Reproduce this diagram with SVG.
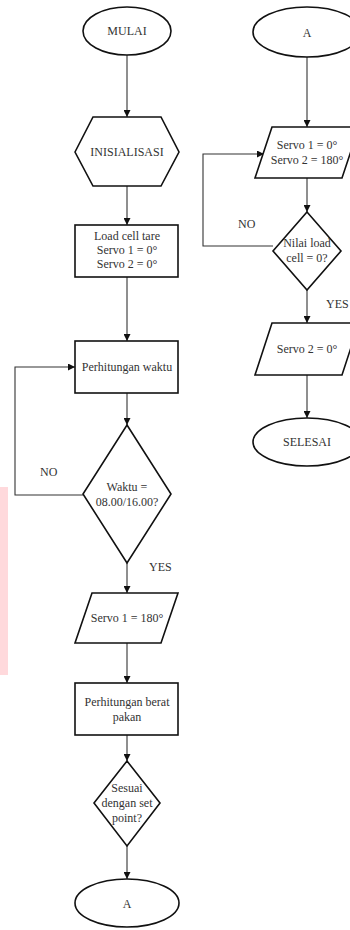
<svg xmlns="http://www.w3.org/2000/svg" width="350" height="930" viewBox="0 0 350 930">
<defs>
<marker id="arr" viewBox="0 0 10 10" refX="10" refY="5" markerWidth="7" markerHeight="7" orient="auto" markerUnits="userSpaceOnUse">
<path d="M0,0 L10,5 L0,10 z" fill="#111"/>
</marker>
<style>
.s{fill:#fff;stroke:#111;stroke-width:1.6}
.c{fill:none;stroke:#333;stroke-width:1.1;marker-end:url(#arr)}
text{font-family:"Liberation Serif","Times New Roman",serif;font-size:12px;fill:#333;text-anchor:middle}
.lbl{text-anchor:start}
</style>
</defs>
<rect x="0" y="487" width="8" height="188" fill="#ffd9dc"/>
<g id="connectors" font-family="Liberation Serif, serif">
<path class="c" d="M127,55 V117"/>
<path class="c" d="M127,186 V225"/>
<path class="c" d="M127,277 V341"/>
<path class="c" d="M127,393 V425"/>
<path class="c" d="M83,495 H15 V367 H75"/>
<path class="c" d="M127,563 V593"/>
<path class="c" d="M127,643 V683"/>
<path class="c" d="M127,735 V761"/>
<path class="c" d="M127,846 V879"/>
<path class="c" d="M307,57 V127"/>
<path class="c" d="M307,178 V212"/>
<path class="c" d="M273,246 H203 V154 H264"/>
<path class="c" d="M307,290 V323"/>
<path class="c" d="M307,375 V418"/>
<text class="lbl" x="40" y="476">NO</text>
<text class="lbl" x="149" y="571">YES</text>
<text class="lbl" x="238" y="228">NO</text>
<text class="lbl" x="326" y="308">YES</text>
</g>
<g id="mulai"><ellipse class="s" cx="127" cy="31" rx="44" ry="24"/><text x="127" y="35">MULAI</text></g>
<g id="inisialisasi"><polygon class="s" points="75,152 93,117 161,117 179,152 161,186 93,186"/><text x="127" y="156">INISIALISASI</text></g>
<g id="loadcell"><rect class="s" x="75" y="225" width="103" height="52"/><text x="127" y="240">Load cell tare</text><text x="127" y="254">Servo 1 = 0°</text><text x="127" y="268">Servo 2 = 0°</text></g>
<g id="waktu"><rect class="s" x="75" y="341" width="103" height="52"/><text x="127" y="371">Perhitungan waktu</text></g>
<g id="cekwaktu"><polygon class="s" points="127,425 171,494 127,563 83,494"/><text x="127" y="491">Waktu =</text><text x="127" y="506">08.00/16.00?</text></g>
<g id="servo1"><polygon class="s" points="92,593 178,593 161,643 75,643"/><text x="127" y="622">Servo 1 = 180°</text></g>
<g id="berat"><rect class="s" x="75" y="683" width="103" height="52"/><text x="127" y="706">Perhitungan berat</text><text x="127" y="721">pakan</text></g>
<g id="sesuai"><polygon class="s" points="127,761 160,803 127,846 94,803"/><text x="127" y="792">Sesuai</text><text x="127" y="807">dengan set</text><text x="127" y="822">point?</text></g>
<g id="a1"><ellipse class="s" cx="127" cy="903" rx="52" ry="24"/><text x="127" y="908">A</text></g>
<g id="a2"><ellipse class="s" cx="307" cy="32" rx="54" ry="25"/><text x="307" y="37">A</text></g>
<g id="servo12"><polygon class="s" points="272,127 359,127 342,178 255,178"/><text x="307" y="149">Servo 1 = 0°</text><text x="307" y="164">Servo 2 = 180°</text></g>
<g id="nilai"><polygon class="s" points="307,212 341,251 307,290 273,251"/><text x="307" y="247">Nilai load</text><text x="307" y="262">cell = 0?</text></g>
<g id="servo2"><polygon class="s" points="272,323 359,323 342,375 255,375"/><text x="307" y="353">Servo 2 = 0°</text></g>
<g id="selesai"><ellipse class="s" cx="307" cy="442" rx="54" ry="24"/><text x="307" y="446">SELESAI</text></g>
</svg>
